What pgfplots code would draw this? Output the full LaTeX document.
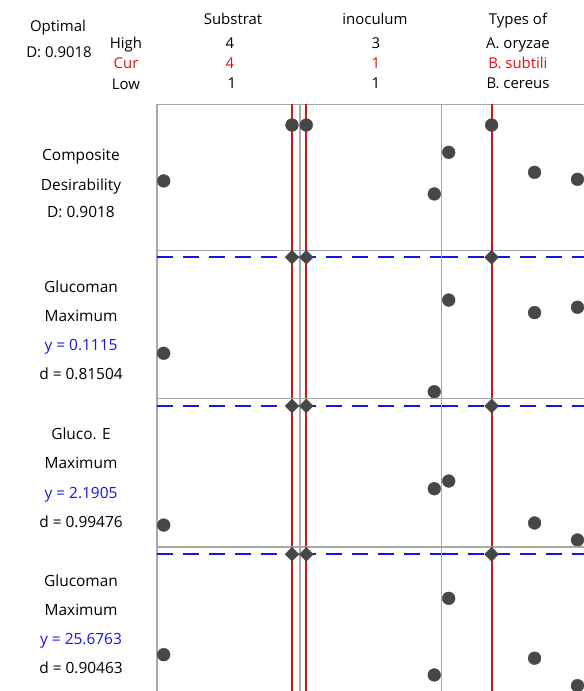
\documentclass[border=0pt]{standalone}
\usepackage{pgfplots}
\pgfplotsset{compat=1.18}
\usepackage{fontspec}
\setmainfont{Open Sans}
\definecolor{pt}{HTML}{474747}
\definecolor{fr}{HTML}{A8A8A8}
\definecolor{rl}{HTML}{E01010}
\definecolor{bl}{HTML}{1515E6}
\begin{document}
\begin{tikzpicture}[font=\fontsize{15}{18}\selectfont]
\useasboundingbox (0,0) rectangle (584bp,-691bp);
\clip (0,0) rectangle (584bp,-691bp);
\pgfplotsset{
 cell/.style={scale only axis, anchor=north west, ymin=0, ymax=1, ticks=none, clip=false,
   axis line style={draw=fr, line width=1.5bp}},
 c1/.style={width=143bp, xmin=0.843, xmax=4.187},
 c2/.style={width=141.7bp, xmin=0.902, xmax=3.116},
 c3/.style={width=143bp, xmin=0.837, xmax=4.168},
 dot/.style={only marks, mark=*, mark size=6.4bp, mark options={fill=pt, draw=pt}},
 dia/.style={only marks, mark=square*, mark size=4.9bp, mark options={rotate=45, fill=pt, draw=pt}},
 red/.style={rl, line width=1.9bp, no marks},
 dsh/.style={bl, line width=2.2bp, dash pattern=on 16bp off 10bp, no marks},
}
% ---------- row 1
\begin{axis}[cell, c1, at={(157bp,-104.3bp)}, height=146bp]
\addplot[dot] coordinates {(1,0.475) (4,0.858)};
\addplot[red] coordinates {(4,0) (4,1)};
\end{axis}
\begin{axis}[cell, c2, at={(300bp,-104.3bp)}, height=146bp]
\addplot[dot] coordinates {(1,0.858) (3,0.386)};
\addplot[red] coordinates {(1,0) (1,1)};
\end{axis}
\begin{axis}[cell, c3, at={(441.7bp,-104.3bp)}, height=146bp]
\addplot[dot] coordinates {(1,0.671) (2,0.858) (3,0.534) (4,0.486)};
\addplot[red] coordinates {(2,0) (2,1)};
\end{axis}
% ---------- row 2
\begin{axis}[cell, c1, at={(157bp,-250.3bp)}, height=148.4bp]
\addplot[dsh] coordinates {(0.843,0.953) (4.187,0.953)};
\addplot[dot] coordinates {(1,0.306)};
\addplot[dia] coordinates {(4,0.953)};
\addplot[red] coordinates {(4,0) (4,1)};
\end{axis}
\begin{axis}[cell, c2, at={(300bp,-250.3bp)}, height=148.4bp]
\addplot[dsh] coordinates {(0.902,0.953) (3.116,0.953)};
\addplot[dot] coordinates {(3,0.047)};
\addplot[dia] coordinates {(1,0.953)};
\addplot[red] coordinates {(1,0) (1,1)};
\end{axis}
\begin{axis}[cell, c3, at={(441.7bp,-250.3bp)}, height=148.4bp]
\addplot[dsh] coordinates {(0.837,0.953) (4.168,0.953)};
\addplot[dot] coordinates {(1,0.665) (3,0.580) (4,0.616)};
\addplot[dia] coordinates {(2,0.953)};
\addplot[red] coordinates {(2,0) (2,1)};
\end{axis}
% ---------- row 3
\begin{axis}[cell, c1, at={(157bp,-398.7bp)}, height=148.3bp]
\addplot[dsh] coordinates {(0.843,0.951) (4.187,0.951)};
\addplot[dot] coordinates {(1,0.148)};
\addplot[dia] coordinates {(4,0.951)};
\addplot[red] coordinates {(4,0) (4,1)};
\end{axis}
\begin{axis}[cell, c2, at={(300bp,-398.7bp)}, height=148.3bp]
\addplot[dsh] coordinates {(0.902,0.951) (3.116,0.951)};
\addplot[dot] coordinates {(3,0.393)};
\addplot[dia] coordinates {(1,0.951)};
\addplot[red] coordinates {(1,0) (1,1)};
\end{axis}
\begin{axis}[cell, c3, at={(441.7bp,-398.7bp)}, height=148.3bp]
\addplot[dsh] coordinates {(0.837,0.951) (4.168,0.951)};
\addplot[dot] coordinates {(1,0.445) (3,0.162) (4,0.047)};
\addplot[dia] coordinates {(2,0.951)};
\addplot[red] coordinates {(2,0) (2,1)};
\end{axis}
% ---------- row 4
\begin{axis}[cell, c1, at={(157bp,-547bp)}, height=148.3bp]
\addplot[dsh] coordinates {(0.843,0.951) (4.187,0.951)};
\addplot[dot] coordinates {(1,0.274)};
\addplot[dia] coordinates {(4,0.951)};
\addplot[red] coordinates {(4,0) (4,1)};
\end{axis}
\begin{axis}[cell, c2, at={(300bp,-547bp)}, height=148.3bp]
\addplot[dsh] coordinates {(0.902,0.951) (3.116,0.951)};
\addplot[dot] coordinates {(3,0.137)};
\addplot[dia] coordinates {(1,0.951)};
\addplot[red] coordinates {(1,0) (1,1)};
\end{axis}
\begin{axis}[cell, c3, at={(441.7bp,-547bp)}, height=148.3bp]
\addplot[dsh] coordinates {(0.837,0.951) (4.168,0.951)};
\addplot[dot] coordinates {(1,0.654) (3,0.250) (4,0.065)};
\addplot[dia] coordinates {(2,0.951)};
\addplot[red] coordinates {(2,0) (2,1)};
\end{axis}
% ---------- header texts
\tikzset{t/.style={anchor=base, inner sep=0pt}, l/.style={t, font=\fontsize{15.5}{18}\selectfont}}
\node[t] at (58bp,-31bp) {Optimal};
\node[t] at (59bp,-57bp) {D: 0.9018};
\node[t] at (126bp,-48bp) {High};
\node[t, text=rl] at (126bp,-68.5bp) {Cur};
\node[t] at (126bp,-89bp) {Low};
\node[t] at (233bp,-24.3bp) {Substrat};
\node[t] at (230bp,-48.5bp) {4};
\node[t, text=rl] at (230bp,-68.5bp) {4};
\node[t] at (232bp,-88.5bp) {1};
\node[t] at (375bp,-24.3bp) {inoculum};
\node[t] at (376bp,-48.5bp) {3};
\node[t, text=rl] at (376bp,-68.5bp) {1};
\node[t] at (376bp,-88.5bp) {1};
\node[t] at (518bp,-24.3bp) {Types of};
\node[t] at (518bp,-48.5bp) {A. oryzae};
\node[t, text=rl] at (518bp,-68.5bp) {B. subtili};
\node[t] at (518bp,-88.5bp) {B. cereus};
% ---------- left texts
\node[l] at (81bp,-160.7bp) {Composite};
\node[l] at (81bp,-190bp) {Desirability};
\node[l] at (81bp,-217.5bp) {D: 0.9018};
\node[l] at (81bp,-292.5bp) {Glucoman};
\node[l] at (81bp,-321.5bp) {Maximum};
\node[l, text=bl] at (81bp,-350.5bp) {y = 0.1115};
\node[l] at (81bp,-379.5bp) {d = 0.81504};
\node[l] at (81bp,-439.5bp) {Gluco. E};
\node[l] at (81bp,-468.5bp) {Maximum};
\node[l, text=bl] at (81bp,-498bp) {y = 2.1905};
\node[l] at (81bp,-527bp) {d = 0.99476};
\node[l] at (81bp,-586.5bp) {Glucoman};
\node[l] at (81bp,-615.5bp) {Maximum};
\node[l, text=bl] at (81bp,-644.5bp) {y = 25.6763};
\node[l] at (81bp,-673.5bp) {d = 0.90463};
\end{tikzpicture}
\end{document}
